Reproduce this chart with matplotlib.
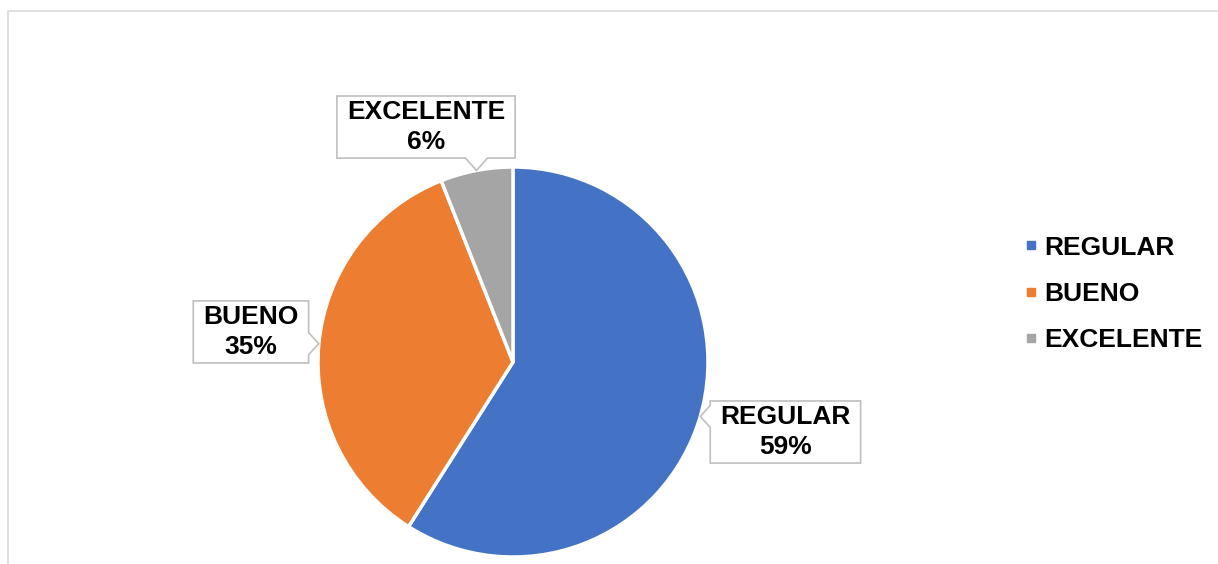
import matplotlib.pyplot as plt
import numpy as np
from matplotlib.patches import Polygon, Rectangle
from matplotlib.lines import Line2D

# Data
labels = ['REGULAR', 'BUENO', 'EXCELENTE']
values = [59, 35, 6]
colors = ['#4472C4', '#ED7D31', '#A5A5A5']

plt.rcParams['font.family'] = ['Liberation Sans', 'DejaVu Sans']

W, H = 1218, 564
fig = plt.figure(figsize=(W / 100, H / 100), dpi=100)

# light frame around the chart area (cut at right and bottom like the source)
fig.patches.append(Rectangle((8 / W, -0.1), 1.2, 553 / H + 0.1, transform=fig.transFigure,
                             fill=False, edgecolor='#D9D9D9', linewidth=1.2))

R = 195  # pie radius in px
ax = fig.add_axes([(513 - R) / W, (564 - 362 - R) / H, 2 * R / W, 2 * R / H])
wedges, _ = ax.pie(values, colors=colors, startangle=90, counterclock=False,
                   wedgeprops=dict(edgecolor='white', linewidth=2.5))
ax.set_xlim(-1, 1)
ax.set_ylim(-1, 1)

# where each callout box sits (pie units)
label_pos = {'REGULAR': (1.397, -0.359), 'BUENO': (-1.344, 0.154), 'EXCELENTE': (-0.446, 1.205)}

texts = []
for lab, v in zip(labels, values):
    cx, cy = label_pos[lab]
    t = ax.text(cx, cy, f'{lab}\n{v}%', ha='center', va='center', fontsize=19,
                fontweight='bold', color='black', linespacing=1.32, zorder=5)
    texts.append(t)

fig.canvas.draw()
renderer = fig.canvas.get_renderer()
pad = 10 / R
notch = 11 / R

for t, w in zip(texts, wedges):
    bb = t.get_window_extent(renderer).transformed(ax.transData.inverted())
    x0, x1 = bb.x0 - pad, bb.x1 + pad
    y0, y1 = bb.y0 - pad * 0.4, bb.y1 + pad * 0.4
    ang = np.deg2rad((w.theta1 + w.theta2) / 2)
    tx, ty = np.cos(ang), np.sin(ang)
    if x0 <= tx <= x1:
        b = np.clip(tx, x0 + notch, x1 - notch)
        if ty < y0:
            pts = [(x0, y0), (b - notch, y0), (tx, ty), (b + notch, y0), (x1, y0), (x1, y1), (x0, y1)]
        else:
            pts = [(x0, y0), (x1, y0), (x1, y1), (b + notch, y1), (tx, ty), (b - notch, y1), (x0, y1)]
    else:
        b = np.clip(ty, y0 + notch, y1 - notch)
        if tx > x1:
            pts = [(x0, y0), (x1, y0), (x1, b - notch), (tx, ty), (x1, b + notch), (x1, y1), (x0, y1)]
        else:
            pts = [(x0, y0), (x1, y0), (x1, y1), (x0, y1), (x0, b + notch), (tx, ty), (x0, b - notch)]
    ax.add_patch(Polygon(pts, closed=True, facecolor='white', edgecolor='#BFBFBF',
                         linewidth=1.2, clip_on=False, zorder=4))

handles = [Line2D([], [], marker='s', linestyle='none', color=c, markersize=6) for c in colors]
fig.legend(handles, labels, loc='center left', bbox_to_anchor=(1023.5 / W, 270 / H),
           frameon=False, borderpad=0, borderaxespad=0, handlelength=0.6, handletextpad=0.2,
           labelspacing=0.85, prop=dict(size=19, weight='bold'))

fig.savefig('out.png', dpi=100)
